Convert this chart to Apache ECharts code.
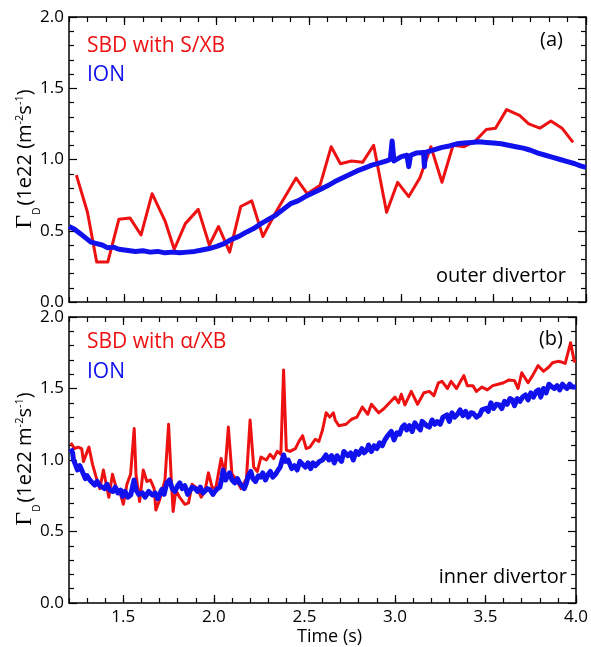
<!DOCTYPE html>
<html><head><meta charset="utf-8">
<script src="https://cdn.jsdelivr.net/npm/echarts@6/dist/echarts.min.js"></script>
<style>html,body{margin:0;padding:0;background:#fff}#c{width:591px;height:647px}</style>
</head><body><div id="c"></div>
<script>
// ---------------- data ----------------
const xMajorTicks = [1.5, 2.0, 2.5, 3.0, 3.5, 4.0];

// (a) outer divertor — SBD with S/XB
const outerSbdTime = [1.24,1.30,1.35,1.41,1.47,1.53,1.59,1.65,1.72,1.77,1.83,1.90,1.96,2.01,2.07,2.13,2.19,2.25,2.32,2.43,2.49,2.56,2.62,2.67,2.73,2.79,2.85,2.92,2.98,3.04,3.10,3.16,3.22,3.28,3.34,3.40,3.46,3.51,3.57,3.64,3.69,3.75,3.81,3.87,3.93];
const outerSbdFlux = [0.89,0.63,0.28,0.28,0.58,0.59,0.47,0.76,0.57,0.37,0.55,0.65,0.40,0.53,0.35,0.67,0.71,0.46,0.63,0.87,0.76,0.82,1.09,0.97,0.99,0.98,1.10,0.63,0.84,0.74,0.87,1.09,0.84,1.10,1.09,1.13,1.21,1.22,1.35,1.31,1.25,1.22,1.27,1.22,1.12];

// (a) outer divertor — ION
const outerIonTime = [1.20,1.23,1.26,1.29,1.32,1.35,1.38,1.41,1.44,1.47,1.50,1.53,1.56,1.60,1.64,1.68,1.72,1.76,1.80,1.84,1.88,1.92,1.96,2.00,2.04,2.08,2.12,2.16,2.20,2.24,2.28,2.32,2.36,2.40,2.44,2.48,2.52,2.56,2.60,2.64,2.68,2.72,2.76,2.80,2.84,2.88,2.92,2.94,2.95,2.96,3.00,3.03,3.04,3.05,3.08,3.12,3.125,3.13,3.14,3.18,3.22,3.26,3.30,3.34,3.38,3.42,3.46,3.50,3.54,3.58,3.62,3.66,3.70,3.74,3.78,3.82,3.86,3.90,3.94,3.97,4.00];
const outerIonFlux = [0.53,0.51,0.48,0.45,0.42,0.41,0.40,0.38,0.385,0.37,0.365,0.36,0.355,0.36,0.35,0.355,0.345,0.35,0.345,0.35,0.355,0.365,0.375,0.39,0.41,0.44,0.46,0.49,0.515,0.55,0.58,0.61,0.65,0.69,0.71,0.74,0.765,0.79,0.815,0.845,0.87,0.895,0.92,0.94,0.96,0.975,0.99,1.00,1.13,0.99,1.02,1.03,0.95,1.03,1.045,1.05,0.95,1.05,1.055,1.07,1.085,1.095,1.11,1.115,1.12,1.125,1.12,1.115,1.11,1.10,1.09,1.08,1.065,1.045,1.03,1.015,1.0,0.985,0.97,0.955,0.945];

// (b) inner divertor — SBD with alpha/XB
const innerSbdTime = [1.21,1.23,1.25,1.27,1.28,1.31,1.33,1.35,1.37,1.39,1.42,1.44,1.46,1.48,1.50,1.52,1.54,1.56,1.57,1.59,1.61,1.63,1.65,1.67,1.68,1.70,1.73,1.75,1.765,1.775,1.79,1.81,1.84,1.86,1.88,1.91,1.93,1.95,1.97,1.99,2.01,2.04,2.06,2.08,2.10,2.12,2.15,2.18,2.20,2.22,2.24,2.26,2.29,2.31,2.33,2.35,2.37,2.385,2.40,2.42,2.45,2.47,2.49,2.51,2.53,2.56,2.58,2.60,2.62,2.64,2.66,2.67,2.69,2.73,2.76,2.79,2.82,2.85,2.87,2.91,2.94,2.97,3.00,3.02,3.035,3.055,3.09,3.125,3.16,3.19,3.215,3.24,3.26,3.29,3.31,3.34,3.38,3.40,3.43,3.45,3.48,3.51,3.54,3.57,3.60,3.63,3.66,3.68,3.70,3.735,3.76,3.79,3.82,3.85,3.87,3.90,3.92,3.94,3.97,3.99,4.00];
const innerSbdFlux = [1.12,1.08,1.09,1.08,0.99,1.09,0.97,0.88,0.80,0.93,0.74,0.90,0.81,0.78,0.69,0.83,0.90,1.22,0.90,0.71,0.93,0.85,0.86,0.80,0.65,0.72,0.86,1.25,0.86,0.64,0.79,0.74,0.69,0.70,0.83,0.80,0.74,0.78,0.91,0.81,0.80,1.01,0.90,1.23,0.90,0.87,0.80,0.87,1.28,0.95,0.92,1.02,1.00,1.04,1.01,1.06,1.04,1.63,1.07,1.06,1.08,1.13,1.17,1.08,1.09,1.145,1.13,1.21,1.33,1.30,1.33,1.28,1.24,1.25,1.285,1.30,1.37,1.32,1.39,1.33,1.36,1.40,1.44,1.40,1.46,1.385,1.48,1.39,1.47,1.48,1.45,1.54,1.55,1.50,1.55,1.50,1.59,1.52,1.52,1.48,1.51,1.49,1.52,1.53,1.54,1.56,1.555,1.50,1.61,1.54,1.59,1.66,1.62,1.65,1.68,1.69,1.685,1.675,1.82,1.69,1.69];

// (b) inner divertor — ION
const innerIonTime = [1.21,1.22,1.225,1.235,1.247,1.26,1.27,1.28,1.29,1.30,1.315,1.33,1.342,1.355,1.37,1.385,1.397,1.41,1.425,1.442,1.455,1.47,1.485,1.496,1.51,1.525,1.541,1.559,1.57,1.585,1.605,1.62,1.64,1.66,1.675,1.69,1.713,1.725,1.74,1.755,1.77,1.785,1.80,1.812,1.825,1.84,1.855,1.866,1.88,1.897,1.91,1.925,1.94,1.951,1.965,1.98,1.995,2.005,2.02,2.033,2.045,2.051,2.065,2.075,2.087,2.10,2.115,2.13,2.141,2.155,2.168,2.18,2.19,2.204,2.215,2.23,2.245,2.258,2.27,2.285,2.30,2.312,2.325,2.34,2.355,2.366,2.385,2.395,2.41,2.43,2.445,2.46,2.475,2.49,2.505,2.52,2.535,2.547,2.56,2.583,2.60,2.619,2.635,2.65,2.665,2.68,2.691,2.705,2.718,2.728,2.74,2.755,2.77,2.785,2.80,2.818,2.83,2.845,2.854,2.87,2.885,2.90,2.915,2.93,2.944,2.96,2.98,2.995,3.01,3.025,3.04,3.053,3.065,3.08,3.095,3.11,3.125,3.14,3.15,3.161,3.175,3.19,3.205,3.22,3.233,3.25,3.265,3.287,3.30,3.315,3.33,3.345,3.36,3.375,3.39,3.405,3.42,3.432,3.45,3.468,3.48,3.504,3.515,3.53,3.545,3.56,3.576,3.59,3.605,3.62,3.635,3.648,3.66,3.675,3.69,3.705,3.721,3.735,3.75,3.765,3.78,3.793,3.805,3.82,3.835,3.85,3.865,3.88,3.895,3.91,3.925,3.937,3.95,3.965,3.98,3.99,4.00];
const innerIonFlux = [1.08,1.05,1.00,0.97,0.93,0.96,0.95,0.90,0.87,0.89,0.86,0.84,0.825,0.85,0.82,0.81,0.80,0.83,0.79,0.78,0.81,0.77,0.79,0.745,0.78,0.74,0.755,0.86,0.79,0.76,0.77,0.74,0.78,0.755,0.77,0.73,0.795,0.76,0.84,0.86,0.80,0.78,0.82,0.84,0.80,0.82,0.76,0.77,0.81,0.80,0.78,0.81,0.77,0.77,0.80,0.79,0.76,0.78,0.80,0.81,0.88,0.93,0.86,0.89,0.91,0.86,0.84,0.87,0.84,0.82,0.80,0.84,0.89,0.92,0.87,0.85,0.89,0.88,0.91,0.86,0.90,0.92,0.88,0.90,0.93,0.95,1.035,0.99,1.00,0.94,0.96,0.93,0.99,0.97,0.95,0.98,0.94,0.98,0.96,0.99,1.00,1.035,1.00,1.03,0.98,1.03,1.01,0.99,1.06,1.06,1.03,1.05,1.00,1.06,1.04,1.08,1.05,1.07,1.105,1.06,1.10,1.08,1.12,1.10,1.14,1.17,1.20,1.14,1.19,1.18,1.23,1.245,1.21,1.24,1.20,1.26,1.233,1.21,1.27,1.257,1.24,1.23,1.28,1.25,1.268,1.25,1.30,1.315,1.27,1.33,1.30,1.32,1.35,1.31,1.34,1.30,1.33,1.327,1.30,1.315,1.35,1.361,1.34,1.40,1.36,1.39,1.385,1.36,1.41,1.39,1.43,1.42,1.38,1.43,1.41,1.44,1.455,1.42,1.47,1.44,1.48,1.49,1.44,1.50,1.47,1.53,1.513,1.50,1.52,1.49,1.53,1.513,1.50,1.53,1.51,1.52,1.51];

// ---------------- styling ----------------
const FONT = "'Open Sans', 'Noto Sans', sans-serif";
const SERIF = "'Liberation Serif', 'DejaVu Serif', serif";
const RED = '#ee1111';
const BLUE = '#1111ee';
const BLACK = '#000';

const pairs = (t, v) => t.map((x, i) => [x, v[i]]);

// text measuring helpers (for composing the rotated y-axis titles)
const mctx = document.createElement('canvas').getContext('2d');
function widthOf(txt, size, fam) { mctx.font = size + 'px ' + fam; return mctx.measureText(txt).width; }
function midToBase(size, fam) { mctx.font = size + 'px ' + fam; mctx.textBaseline = 'middle'; const m = mctx.measureText('H'); mctx.textBaseline = 'alphabetic'; return m.actualBoundingBoxDescent; }

function textAtBaseline(txt, x, baseY, size, color, align, fam) {
  fam = fam || FONT;
  return { type: 'text', x: x, y: baseY - midToBase(size, fam), silent: true, z: 100,
    style: { text: txt, fill: color, fontSize: size, fontFamily: fam, align: align || 'left', verticalAlign: 'middle' } };
}

// y-axis title: Γ_D (1e22 ...) rotated, built from pieces
function yTitle(baseX, centerY, mainParts) {
  // parts: [text, size, family, baselineShift(local, + = towards axis), gapAfter]
  const parts = [['Γ', 24, SERIF, 0.8, 0], ['D', 10, FONT, 9.5, 2]].concat(mainParts);
  const total = parts.reduce((s, p) => s + widthOf(p[0], p[1], p[2]) + p[4], 0);
  let lx = -total / 2;
  const children = [];
  parts.forEach(p => {
    const w = widthOf(p[0], p[1], p[2]);
    children.push({ type: 'text', x: lx, y: p[3] - midToBase(p[1], p[2]), silent: true,
      style: { text: p[0], fill: BLACK, fontSize: p[1], fontFamily: p[2], align: 'left', verticalAlign: 'middle' } });
    lx += w + p[4];
  });
  return { type: 'group', x: baseX, y: centerY, rotation: Math.PI / 2, z: 100, children: children };
}

const grids = [
  { left: 69, top: 17, width: 517, height: 285 },
  { left: 69, top: 317, width: 517, height: 286 }
];

const axisLineOpt = (show) => ({ show: show, onZero: false, lineStyle: { color: BLACK, width: 1.5 } });
const tickLine = () => ({ color: BLACK, width: 1.2 });

function xAxesFor(gi, withLabels) {
  const major = (pos) => ({
    type: 'value', gridIndex: gi, min: 1.2, max: 4.0, position: pos,
    splitLine: { show: false },
    axisLine: axisLineOpt(true),
    axisTick: { show: true, inside: true, length: 8, customValues: xMajorTicks.slice(), lineStyle: tickLine() },
    axisLabel: (withLabels && pos === 'bottom')
      ? { show: true, customValues: xMajorTicks.slice(), formatter: v => v.toFixed(1), fontSize: 17, color: BLACK, fontFamily: FONT, margin: 6 }
      : { show: false },
    name: (withLabels && pos === 'bottom') ? 'Time (s)' : '',
    nameLocation: 'middle', nameGap: 25,
    nameTextStyle: { fontSize: 18, color: BLACK, fontFamily: FONT, padding: [0, 0, 0, 14] }
  });
  const minor = (pos) => ({
    type: 'value', gridIndex: gi, min: 1.2, max: 4.0, position: pos, interval: 0.1,
    splitLine: { show: false },
    axisLine: axisLineOpt(false),
    axisTick: { show: true, inside: true, length: 5, lineStyle: tickLine() },
    axisLabel: { show: false }
  });
  return [major('bottom'), minor('bottom'), major('top'), minor('top')];
}

function yAxesFor(gi) {
  const mk = (pos) => ({
    type: 'value', gridIndex: gi, min: 0, max: 2, interval: 0.5, position: pos,
    splitLine: { show: false }, minorSplitLine: { show: false },
    axisLine: axisLineOpt(true),
    axisTick: { show: true, inside: true, length: 8, lineStyle: tickLine() },
    minorTick: { show: true, splitNumber: 5, length: 5, lineStyle: tickLine() },
    axisLabel: pos === 'left'
      ? { show: true, formatter: v => v.toFixed(1), fontSize: 17, color: BLACK, fontFamily: FONT, margin: 5 }
      : { show: false }
  });
  return [mk('left'), mk('right')];
}

function lineSeries(name, t, v, color, width, xi, yi, z) {
  return { name: name, type: 'line', xAxisIndex: xi, yAxisIndex: yi, data: pairs(t, v), showSymbol: false, symbol: 'none',
    lineStyle: { color: color, width: width, join: 'round' }, itemStyle: { color: color }, z: z, animation: false, silent: true };
}

const chart = echarts.init(document.getElementById('c'), null, { renderer: 'canvas', width: 591, height: 647 });
chart.setOption({
  animation: false,
  textStyle: { fontFamily: FONT },
  grid: grids,
  xAxis: xAxesFor(0, false).concat(xAxesFor(1, true)),
  yAxis: yAxesFor(0).concat(yAxesFor(1)),
  series: [
    lineSeries('SBD with S/XB', outerSbdTime, outerSbdFlux, RED, 3, 0, 0, 2),
    lineSeries('ION', outerIonTime, outerIonFlux, BLUE, 5, 0, 0, 3),
    lineSeries('SBD with α/XB', innerSbdTime, innerSbdFlux, RED, 3, 4, 2, 2),
    lineSeries('ION', innerIonTime, innerIonFlux, BLUE, 5, 4, 2, 3)
  ],
  graphic: [
    textAtBaseline('SBD with S/XB', 87, 52.3, 21, RED),
    textAtBaseline('ION', 87, 80.5, 21, BLUE),
    textAtBaseline('(a)', 563, 45.5, 20, BLACK, 'right'),
    textAtBaseline('outer divertor', 566, 282, 20, BLACK, 'right'),
    textAtBaseline('SBD with α/XB', 87, 348.3, 21, RED),
    textAtBaseline('ION', 87, 378.3, 21, BLUE),
    textAtBaseline('(b)', 563, 345, 20, BLACK, 'right'),
    textAtBaseline('inner divertor', 567, 583.3, 20, BLACK, 'right'),
    yTitle(30.5, 159, [['(1e22 (m', 20, FONT, 0, 0], ['-2', 11, FONT, -7.5, 0], ['s', 20, FONT, 0, 0], ['-1', 11, FONT, -7.5, 0], [')', 20, FONT, 0, 0]]),
    yTitle(30.5, 459, [['(1e22 m', 20, FONT, 0, 0], ['-2', 11, FONT, -7.5, 0], ['s', 20, FONT, 0, 0], ['-1', 11, FONT, -7.5, 0], [')', 20, FONT, 0, 0]])
  ]
});
</script>
</body></html>
